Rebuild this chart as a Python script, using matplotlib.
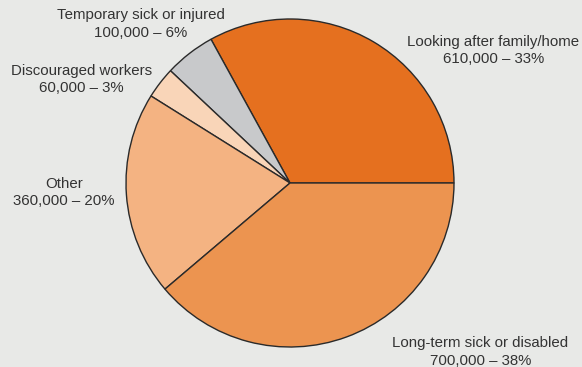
import matplotlib.pyplot as plt

# data, counterclockwise from 3 o'clock
labels = ["Looking after family/home", "Temporary sick or injured",
          "Discouraged workers", "Other", "Long-term sick or disabled"]
counts = [610000, 100000, 60000, 360000, 700000]
shares = [33, 6, 3, 20, 38]
# slice sizes as drawn in the picture (percent of the circle)
slice_sizes = [33.0, 5.0, 3.1, 20.1, 38.8]
colors = ["#e5701f", "#c8c9cb", "#f9d5b8", "#f4b382", "#ec9450"]

# where each label sits (data coords, pie radius = 1)
label_pos = [(1.24, 0.81), (-0.91, 0.97), (-1.27, 0.63), (-1.38, -0.06), (1.16, -1.03)]

plt.rcParams['font.family'] = ['Liberation Sans', 'DejaVu Sans']

W, H, R = 582, 367, 164
cx, cy = 290, 183
fig = plt.figure(figsize=(W / 100, H / 100), dpi=100)
fig.patch.set_facecolor("#e8e9e7")
ax = fig.add_axes([0, 0, 1, 1])
ax.set_facecolor("#e8e9e7")

ax.pie(slice_sizes, colors=colors, startangle=0, counterclock=True, radius=1,
       wedgeprops=dict(edgecolor="#2a2a2a", linewidth=1.0))

for lab, c, s, (x, y) in zip(labels, counts, shares, label_pos):
    ax.text(x, y, f"{lab}\n{c:,} \u2013 {s}%", ha="center", va="center",
            fontsize=10.8, color="#333333", linespacing=1.3)

ax.set_xlim(-cx / R, (W - cx) / R)
ax.set_ylim(-(H - cy) / R, cy / R)
ax.set_aspect("auto")
ax.axis("off")

fig.savefig("out.png", dpi=100, facecolor=fig.get_facecolor())
